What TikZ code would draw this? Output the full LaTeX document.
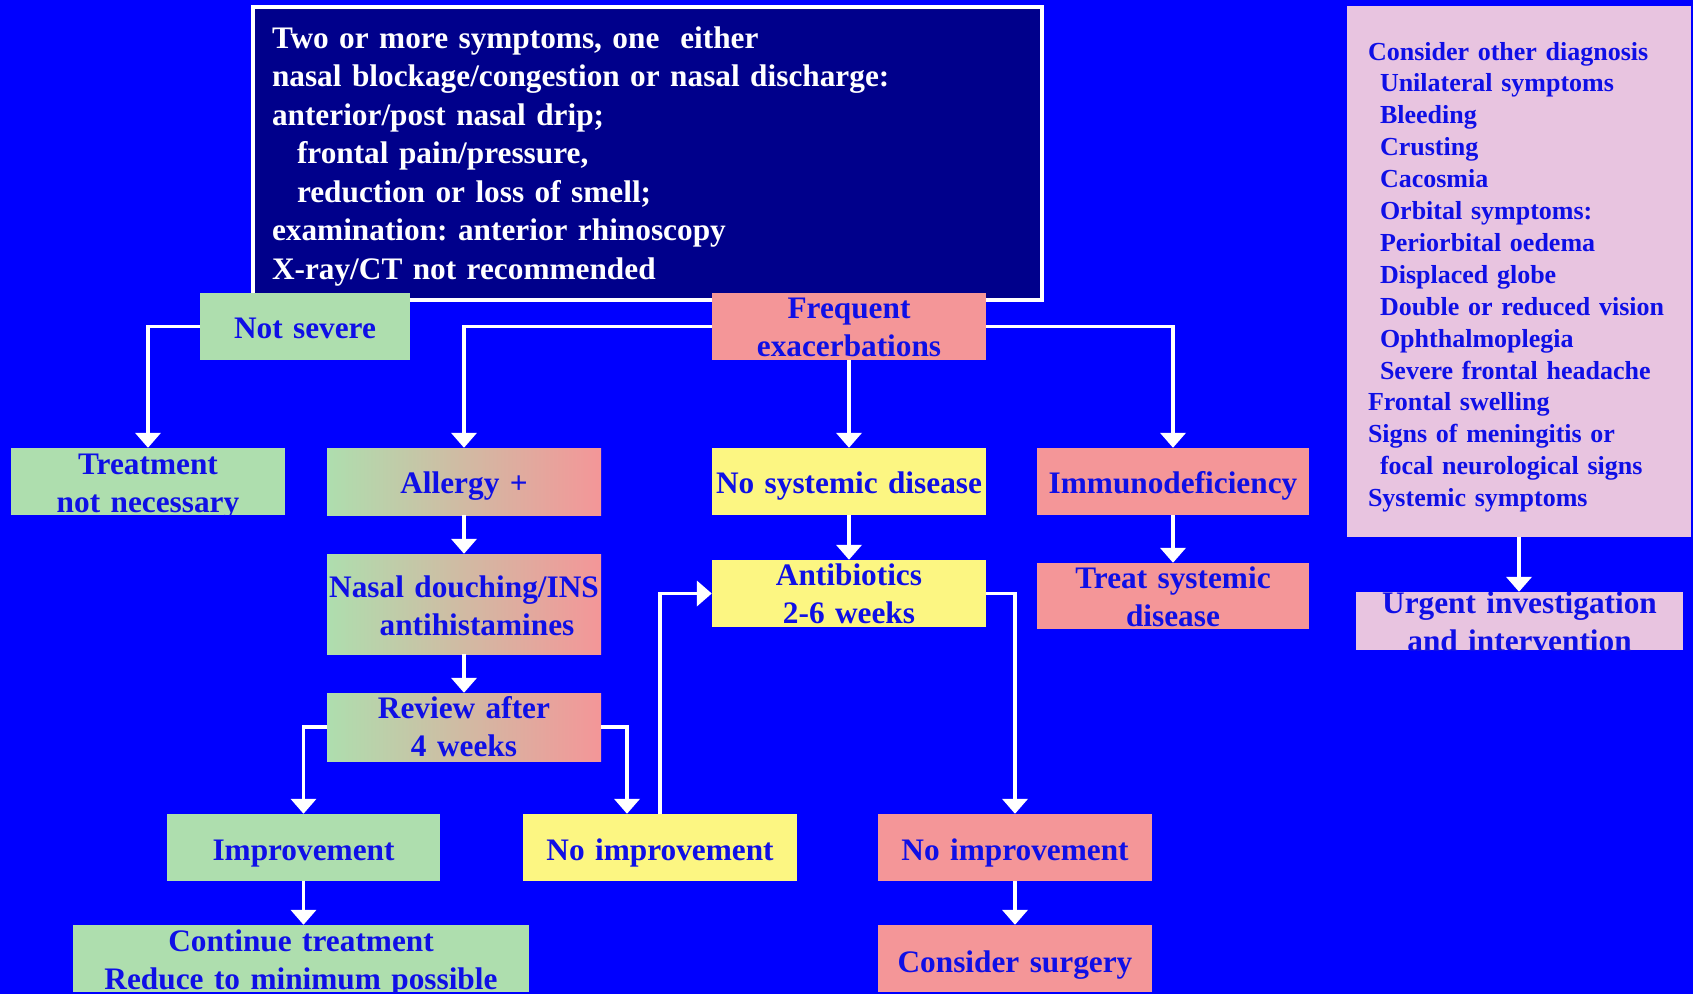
\documentclass[tikz,border=0pt]{standalone}
\usepackage{fontspec}
\setmainfont{Liberation Serif}
\usetikzlibrary{arrows.meta,calc}
\definecolor{bgblue}{RGB}{0,0,255}
\definecolor{navybox}{RGB}{0,0,139}
\definecolor{boxgreen}{RGB}{174,222,174}
\definecolor{boxpink}{RGB}{244,150,152}
\definecolor{boxyellow}{RGB}{252,246,130}
\definecolor{boxlav}{RGB}{232,196,224}
\definecolor{txtblue}{RGB}{15,15,230}
\frenchspacing
\begin{document}
\begin{tikzpicture}[x=1pt,y=-1pt,
  box/.style={rectangle, inner xsep=0pt, inner ysep=0pt, align=center, text=txtblue,
    font=\fontsize{31.3}{38}\selectfont\bfseries, text width=274pt, minimum height=67pt},
  gbox/.style={box, fill=boxgreen},
  pbox/.style={box, fill=boxpink},
  ybox/.style={box, fill=boxyellow},
  gradbox/.style={box, left color=boxgreen, right color=boxpink},
  conn/.style={draw=white, line width=3.8pt, -{Triangle[width=25pt,length=15pt]}}
]
\useasboundingbox (0,0) rectangle (1693,994);
\fill[bgblue] (0,0) rectangle (1693,994);

% top box
\node[draw=white, line width=4pt, fill=navybox, minimum width=789pt, minimum height=293pt,
  inner xsep=19pt, inner ysep=0pt, text width=751pt, align=left, text=white,
  font=\fontsize{31.3}{38.5}\selectfont\bfseries, text height=41pt, text depth=252pt]
  (top) at (647.5,153.5)
  {Two or more symptoms, one\ \ either\\
   nasal blockage/congestion or nasal discharge:\\
   anterior/post nasal drip;\\
   \hspace*{25pt}frontal pain/pressure,\\
   \hspace*{25pt}reduction or loss of smell;\\
   examination: anterior rhinoscopy\\
   X-ray/CT not recommended};

% right box
\node[fill=boxlav, minimum width=344pt, minimum height=531pt, inner xsep=21pt, inner ysep=0pt,
  text width=302pt, align=left, text=txtblue, font=\fontsize{26}{31.9}\selectfont\bfseries,
  text height=54pt, text depth=477pt] (otherdx) at (1519,271.5)
  {Consider other diagnosis\\
   \hspace*{12pt}Unilateral symptoms\\
   \hspace*{12pt}Bleeding\\
   \hspace*{12pt}Crusting\\
   \hspace*{12pt}Cacosmia\\
   \hspace*{12pt}Orbital symptoms:\\
   \hspace*{12pt}Periorbital oedema\\
   \hspace*{12pt}Displaced globe\\
   \hspace*{12pt}Double or reduced vision\\
   \hspace*{12pt}Ophthalmoplegia\\
   \hspace*{12pt}Severe frontal headache\\
   Frontal swelling\\
   Signs of meningitis or\\
   \hspace*{12pt}focal neurological signs\\
   Systemic symptoms};

\begin{scope}
\clip (1356,592) rectangle (1683,650);
\node[box, fill=boxlav, text width=327pt, minimum height=58pt,
  font=\fontsize{31.3}{38}\selectfont\bfseries, text height=21pt, text depth=37pt]
  (urgent) at (1519.5,621) {Urgent investigation\\and intervention};
\end{scope}

% row 1
\node[gbox, text width=210pt, text height=45pt, text depth=22pt] (notsev) at (305,326.5) {Not severe};
\node[pbox, text height=25pt, text depth=42pt] (freq) at (849,326.5) {Frequent\\exacerbations};

% row 2
\begin{scope}
\clip (11,448) rectangle (285,515);
\node[gbox, text height=26pt, text depth=41pt] (treat) at (148,481.5) {Treatment\\not necessary};
\end{scope}
\node[gradbox, text height=45pt, text depth=22pt] (allergy) at (464,481.5) {Allergy +};
\node[ybox, text height=45pt, text depth=22pt] (nosys) at (849,481.5) {No systemic disease};
\node[pbox, text width=272pt, text height=45pt, text depth=22pt] (immuno) at (1173,481.5) {Immunodeficiency};

% row 3
\node[gradbox, minimum height=100pt, text height=43pt, text depth=57pt] (nasal) at (464,604)
  {Nasal douching/INS\\\hspace*{26pt}antihistamines};
\node[ybox, text height=25pt, text depth=42pt] (antib) at (849,593.5) {Antibiotics\\2-6 weeks};
\node[pbox, text width=272pt, minimum height=66pt, text height=25pt, text depth=41pt] (treatsys) at (1173,596)
  {Treat systemic\\disease};

% row 4
\node[gradbox, minimum height=68pt, text height=25pt, text depth=43pt] (review) at (464,727) {Review after\\4 weeks};

% row 5
\node[gbox, text width=273pt, text height=46pt, text depth=21pt] (improve) at (303.5,847.5) {Improvement};
\node[ybox, text height=46pt, text depth=21pt] (noimpA) at (660,847.5) {No improvement};
\node[pbox, text height=46pt, text depth=21pt] (noimpB) at (1015,847.5) {No improvement};

% row 6
\begin{scope}
\clip (73,925) rectangle (529,992);
\node[gbox, text width=456pt, text height=26pt, text depth=41pt] (cont) at (301,958.5)
  {Continue treatment\\Reduce to minimum possible};
\end{scope}
\node[pbox, text height=47pt, text depth=20pt] (surgery) at (1015,958.5) {Consider surgery};

% connectors
\draw[conn] (notsev.west) -| (treat.north);
\draw[conn] (freq.west) -| (allergy.north);
\draw[conn] (freq.south) -- (nosys.north);
\draw[conn] (freq.east) -| (immuno.north);
\draw[conn] (allergy.south) -- (nasal.north);
\draw[conn] (nasal.south) -- (review.north);
\draw[conn] (review.west) -| (improve.north);
\coordinate (noimpAin) at ($(noimpA.north)+(-33,0)$);
\draw[conn] (review.east) -| (noimpAin);
\draw[conn] (noimpA.north) |- (antib.west);
\draw[conn] (nosys.south) -- (antib.north);
\draw[conn] (antib.east) -| (noimpB.north);
\draw[conn] (noimpB.south) -- (surgery.north);
\draw[conn] (improve.south) -- (improve.south |- cont.north);
\draw[conn] (immuno.south) -- (treatsys.north);
\draw[conn] (otherdx.south) -- (otherdx.south |- urgent.north);
\end{tikzpicture}
\end{document}
